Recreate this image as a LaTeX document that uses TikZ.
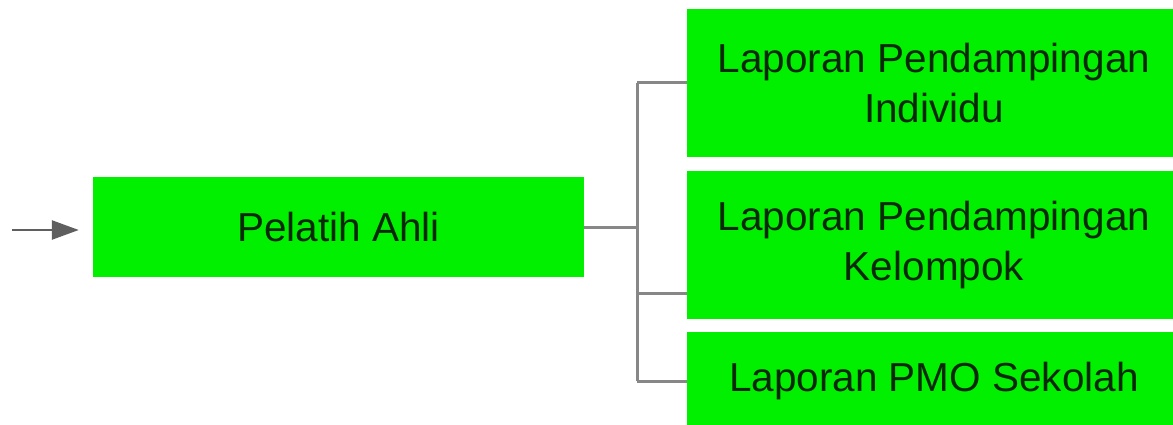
\documentclass[tikz,border=0pt]{standalone}
\usepackage{fontspec}
\setmainfont{Liberation Sans}
\usetikzlibrary{arrows.meta,calc}
\definecolor{boxgreen}{RGB}{0,240,0}
\definecolor{linegray}{RGB}{135,135,135}
\definecolor{arrowgray}{RGB}{95,95,95}
\definecolor{txt}{RGB}{10,40,10}
\tikzset{
  gbox/.style={fill=boxgreen, draw=none, inner sep=0pt, align=center,
    font=\fontsize{40.5}{50}\selectfont, text=txt},
  conn/.style={draw=linegray, line width=3pt},
}
\begin{document}
\begin{tikzpicture}[x=1pt,y=-1pt]
\useasboundingbox (0,0) rectangle (1173,425);
\clip (0,0) rectangle (1173,425);
\node[gbox, minimum width=491, minimum height=100] (pel) at (338.5,227) {Pelatih Ahli};
\node[gbox, minimum width=494, minimum height=148] (ind) at (934,83) {Laporan Pendampingan\\Individu};
\node[gbox, minimum width=494, minimum height=147] (kel) at (934,245) {Laporan Pendampingan\\Kelompok};
\node[gbox, minimum width=494, minimum height=98] (pmo) at (934,381) {Laporan PMO Sekolah};
\coordinate (src) at (12,230);
\coordinate (jn) at (637,227);
\coordinate (kb) at (637,293);
\draw[draw=arrowgray, line width=2.5pt, -{Triangle[length=27pt,width=19pt]}] (src) -- ([xshift=-14pt]pel.west |- src);
\draw[conn] (pel.east |- jn) -- (jn);
\draw[conn] (jn |- ind.west) -- (jn |- pmo.west);
\draw[conn] (jn |- ind.west) -- (ind.west);
\draw[conn] (kb) -- (kel.west |- kb);
\draw[conn] (jn |- pmo.west) -- (pmo.west);
\end{tikzpicture}
\end{document}
